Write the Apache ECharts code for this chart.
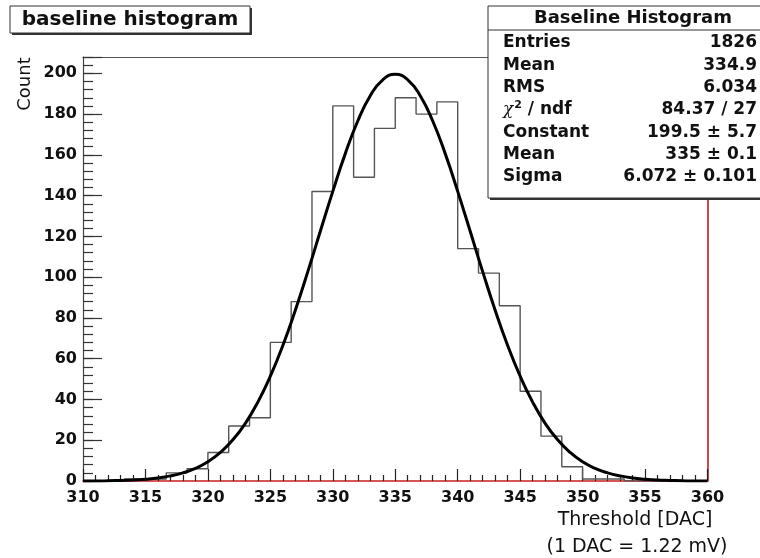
<!DOCTYPE html>
<html>
<head>
<meta charset="utf-8">
<script src="https://cdn.jsdelivr.net/npm/echarts@6/dist/echarts.min.js"></script>
<style>html,body{margin:0;padding:0;background:#fff}#c{width:760px;height:558px}</style>
</head>
<body>
<div id="c"></div>
<script>
// ---- data ----
const xMin = 310, xMax = 360, nBins = 30;
const binCounts = [0, 0, 1, 1, 4, 6, 14, 27, 31, 68, 88, 142, 184, 149, 173, 188, 180, 186, 114, 102, 86, 44, 22, 7, 1, 1, 0, 0, 0, 0];
// fitted gaussian curve, sampled at integer thresholds 310..360
const fitValues = [0.0, 0.0, 0.1, 0.3, 0.5, 0.9, 1.5, 2.5, 4.0, 6.2, 9.4, 14.0, 20.2, 28.3, 38.7, 51.4, 66.5, 83.8, 102.7, 122.5, 142.1, 160.6, 176.6, 189.0, 196.8, 199.5, 196.8, 189.0, 176.6, 160.6, 142.1, 122.5, 102.7, 83.8, 66.5, 51.4, 38.7, 28.3, 20.2, 14.0, 9.4, 6.2, 4.0, 2.5, 1.5, 0.9, 0.5, 0.3, 0.1, 0.0, 0.0];
const xTickLabels = ['310','315','320','325','330','335','340','345','350','355','360'];
const yTickLabels = ['0','20','40','60','80','100','120','140','160','180','200'];
const statsLabels = ['Entries', 'Mean', 'RMS', 'CHI', 'Constant', 'Mean', 'Sigma'];
const statsValues = ['1826', '334.9', '6.034', '84.37 / 27', '199.5 \u00b1 5.7', '335 \u00b1 0.1', '6.072 \u00b1 0.101'];

// ---- build series data ----
const binW = (xMax - xMin) / nBins;
const histData = binCounts.map((v, i) => [xMin + i * binW, v]);
histData.push([xMax, binCounts[binCounts.length - 1]]);
const fitData = fitValues.map((v, i) => [xMin + i, v]);

const chart = echarts.init(document.getElementById('c'), null, {renderer: 'canvas'});
const boldFont = 'DejaVu Sans';
const statsEls = [];
const rowY0 = 43, rowStep = 22.3;
statsLabels.forEach((lab, i) => {
  const y = rowY0 + i * rowStep;
  if (lab === 'CHI') {
    statsEls.push({type: 'text', x: 503, y: y, z: 102, style: {
      text: '{c|\u03c7}{s|2}{n| / ndf}', align: 'left', verticalAlign: 'middle', fill: '#111',
      rich: {
        c: {fontFamily: 'DejaVu Serif', fontStyle: 'italic', fontSize: 17, fill: '#111'},
        s: {fontFamily: boldFont, fontWeight: 'bold', fontSize: 11, fill: '#111', padding: [0, 0, 9, 1]},
        n: {fontFamily: boldFont, fontWeight: 'bold', fontSize: 17, fill: '#111'}
      }}});
  } else {
    statsEls.push({type: 'text', x: 503, y: y, z: 102, style: {text: lab, fontFamily: boldFont, fontWeight: 'bold', fontSize: 17, fill: '#111', align: 'left', verticalAlign: 'middle'}});
  }
  statsEls.push({type: 'text', x: 757, y: y, z: 102, style: {text: statsValues[i], fontFamily: boldFont, fontWeight: 'bold', fontSize: 17, fill: '#111', align: 'right', verticalAlign: 'middle'}});
});

const option = {
  animation: false,
  backgroundColor: '#fff',
  grid: {left: 83, right: 52.5, top: 57, bottom: 77, containLabel: false},
  xAxis: [
    {type: 'value', min: xMin, max: xMax, interval: 5, position: 'bottom',
      axisLine: {show: true, onZero: false, lineStyle: {color: '#cc1f1f', width: 1.6}},
      axisTick: {show: true, inside: true, length: 12, lineStyle: {color: '#222', width: 1.2}},
      minorTick: {show: true, splitNumber: 5, length: 6, lineStyle: {color: '#222', width: 1.2}},
      axisLabel: {show: true, margin: 9, fontFamily: boldFont, fontWeight: 'bold', fontSize: 16, color: '#111',
        formatter: v => xTickLabels.indexOf(String(Math.round(v))) >= 0 && Math.abs(v - Math.round(v)) < 1e-6 ? String(Math.round(v)) : ''},
      splitLine: {show: false}},
    {type: 'value', min: xMin, max: xMax, position: 'top',
      axisLine: {show: true, onZero: false, lineStyle: {color: '#555', width: 1.2}},
      axisTick: {show: false}, axisLabel: {show: false}, splitLine: {show: false}}
  ],
  yAxis: [
    {type: 'value', min: 0, max: 208, interval: 20, position: 'left',
      axisLine: {show: true, onZero: false, lineStyle: {color: '#444', width: 1.2}},
      axisTick: {show: true, inside: true, length: 19, lineStyle: {color: '#333', width: 1.2}},
      axisLabel: {show: true, margin: 6, fontFamily: boldFont, fontWeight: 'bold', fontSize: 16, color: '#111',
        formatter: v => yTickLabels.indexOf(String(Math.round(v))) >= 0 && Math.abs(v - Math.round(v)) < 1e-6 ? String(Math.round(v)) : ''},
      splitLine: {show: false}},
    {type: 'value', min: 0, max: 208, interval: 4, position: 'left',
      axisLine: {show: false},
      axisTick: {show: true, inside: true, length: 10, lineStyle: {color: '#333', width: 1.2}},
      axisLabel: {show: false}, splitLine: {show: false}},
    {type: 'value', min: 0, max: 208, position: 'right',
      axisLine: {show: true, onZero: false, lineStyle: {color: '#c41a1a', width: 1.6}},
      axisTick: {show: false}, axisLabel: {show: false}, splitLine: {show: false}}
  ],
  series: [
    {type: 'line', name: 'hist', data: histData, step: 'end', symbol: 'none', xAxisIndex: 0, yAxisIndex: 0,
      lineStyle: {color: '#555', width: 1.4}, z: 3},
    {type: 'line', name: 'fit', data: fitData, smooth: true, symbol: 'none', xAxisIndex: 0, yAxisIndex: 0,
      lineStyle: {color: '#000', width: 3}, z: 4}
  ],
  graphic: [
    // title box
    {type: 'rect', z: 100, shape: {x: 12, y: 8, width: 240, height: 27}, style: {fill: '#333'}},
    {type: 'rect', z: 101, shape: {x: 10, y: 6, width: 240, height: 27}, style: {fill: '#fff', stroke: '#333', lineWidth: 1}},
    {type: 'text', z: 102, x: 130, y: 20, style: {text: 'baseline histogram', fontFamily: boldFont, fontWeight: 'bold', fontSize: 20, fill: '#111', align: 'center', verticalAlign: 'middle'}},
    // stats box
    {type: 'rect', z: 100, shape: {x: 490, y: 8, width: 280, height: 192}, style: {fill: '#333'}},
    {type: 'rect', z: 101, shape: {x: 488, y: 6, width: 280, height: 192}, style: {fill: '#fff', stroke: '#333', lineWidth: 1}},
    {type: 'line', z: 102, shape: {x1: 488, y1: 30, x2: 760, y2: 30}, style: {stroke: '#333', lineWidth: 1}},
    {type: 'text', z: 102, x: 633, y: 18, style: {text: 'Baseline Histogram', fontFamily: boldFont, fontWeight: 'bold', fontSize: 18, fill: '#111', align: 'center', verticalAlign: 'middle'}},
    ...statsEls,
    // axis titles
    {type: 'text', z: 102, x: 25, y: 84, rotation: Math.PI / 2, style: {text: 'Count', fontFamily: 'DejaVu Sans', fontSize: 18, fill: '#111', align: 'center', verticalAlign: 'middle'}},
    {type: 'text', z: 102, x: 635, y: 520, style: {text: 'Threshold [DAC]', fontFamily: 'DejaVu Sans', fontSize: 19, fill: '#111', align: 'center', verticalAlign: 'middle'}},
    {type: 'text', z: 102, x: 637, y: 547, style: {text: '(1 DAC = 1.22 mV)', fontFamily: 'DejaVu Sans', fontSize: 19, fill: '#111', align: 'center', verticalAlign: 'middle'}}
  ]
};
chart.setOption(option);
</script>
</body>
</html>
